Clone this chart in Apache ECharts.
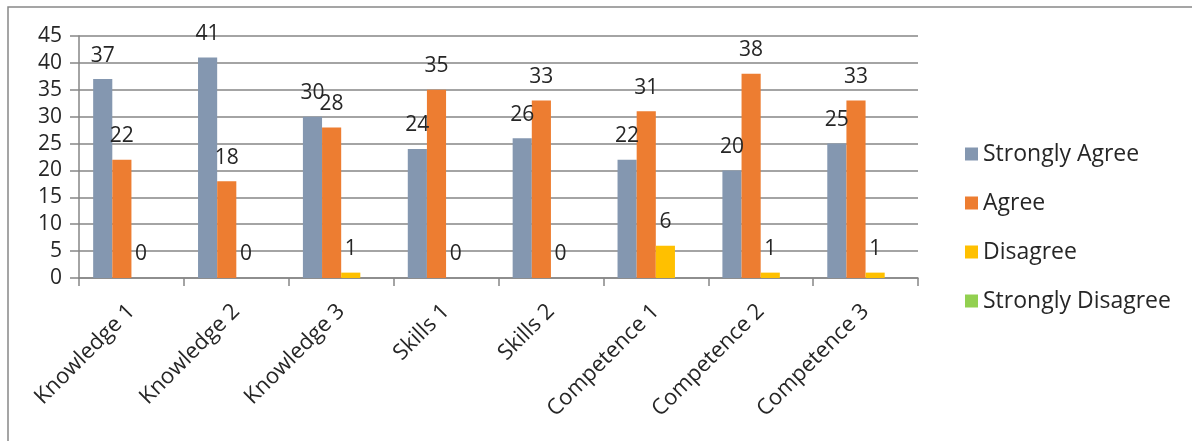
<!DOCTYPE html>
<html>
<head>
<meta charset="utf-8">
<script src="https://cdn.jsdelivr.net/npm/echarts@6/dist/echarts.min.js"></script>
<style>
html,body{margin:0;padding:0;background:#fff;}
#main{width:1192px;height:441px;}
</style>
</head>
<body>
<div id="main"></div>
<script>
const categories = ['Knowledge 1','Knowledge 2','Knowledge 3','Skills 1','Skills 2','Competence 1','Competence 2','Competence 3'];
const stronglyAgree = [37, 41, 30, 24, 26, 22, 20, 25];
const agree = [22, 18, 28, 35, 33, 31, 38, 33];
const disagree = [0, 0, 1, 0, 0, 6, 1, 1];
const stronglyDisagree = [0, 0, 0, 0, 0, 0, 0, 0];
const seriesNames = ['Strongly Agree','Agree','Disagree','Strongly Disagree'];
const colors = ['#8497B0','#ED7D31','#FFC000','#92D050'];

const FONT = 'Open Sans';
const FS = 21;
const chart = echarts.init(document.getElementById('main'));
const lbl = {show:true, position:'top', distance:13, color:'#262626', fontFamily:FONT, fontSize:FS};
function mk(name, data, color, showLabel){
  return {name, type:'bar', data, barGap:'0%', barCategoryGap:'27%',
    itemStyle:{color}, label: showLabel ? lbl : {show:false}, animation:false};
}
chart.setOption({
  animation:false,
  textStyle:{fontFamily:FONT},
  graphic:[{type:'rect', shape:{x:8, y:7, width:1300, height:500},
    style:{fill:'none', stroke:'#888', lineWidth:1.5}, silent:true}],
  grid:{left:79, right:274, top:36, bottom:163, containLabel:false},
  legend:{orient:'vertical', left:960, top:135, itemWidth:13, itemHeight:13, itemGap:21,
    icon:'rect', textStyle:{fontFamily:FONT, fontSize:23, color:'#262626', lineHeight:28}, data:seriesNames},
  xAxis:{type:'category', data:categories,
    axisLine:{lineStyle:{color:'#868686', width:1.5}},
    axisTick:{show:true, length:8, lineStyle:{color:'#868686', width:1.5}},
    axisLabel:{rotate:45, margin:30, color:'#262626', fontFamily:FONT, fontSize:22, interval:0}},
  yAxis:{type:'value', min:0, max:45, interval:5,
    axisLine:{show:true, lineStyle:{color:'#868686', width:1.5}},
    axisTick:{show:true, length:9, lineStyle:{color:'#868686', width:1.5}},
    splitLine:{lineStyle:{color:'#868686', width:1.5}},
    axisLabel:{margin:17, color:'#262626', fontFamily:FONT, fontSize:FS}},
  series:[
    mk(seriesNames[0], stronglyAgree, colors[0], true),
    mk(seriesNames[1], agree, colors[1], true),
    mk(seriesNames[2], disagree, colors[2], true),
    mk(seriesNames[3], stronglyDisagree, colors[3], false)
  ]
});
</script>
</body>
</html>
